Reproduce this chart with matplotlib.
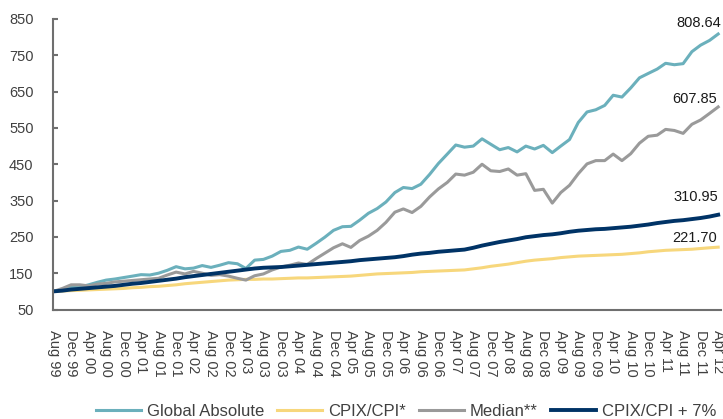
#!/usr/bin/env python
"""Cumulative growth of R100 invested Aug 99: Global Absolute vs Median vs CPIX/CPI targets."""
import matplotlib
matplotlib.use("Agg")
import matplotlib.pyplot as plt
import pandas as pd

plt.rcParams.update({"font.family": ["Liberation Sans", "DejaVu Sans"], "font.size": 10.5})

# bi-monthly observations, Aug 99 .. Apr 12
dates = pd.date_range("1999-08-01", "2012-04-01", freq="2MS")

global_absolute = [
    100, 104, 111, 112, 118, 125, 131, 134, 138, 142, 146, 145, 150, 158, 168, 162,
    164, 171, 166, 172, 179, 176, 163, 186, 188, 197, 210, 213, 222, 216, 232, 249,
    268, 278, 279, 296, 315, 328, 346, 372, 386, 383, 395, 422, 452, 478, 503, 497,
    500, 520, 505, 490, 496, 484, 500, 492, 502, 482, 500, 518, 565, 594, 600, 612,
    640, 635, 660, 688, 700, 712, 728, 724, 727, 760, 778, 791, 808.64]
cpix = [
    100, 101, 102, 103, 104, 105, 106, 107, 108, 110, 111, 113, 114, 116, 118, 121,
    123, 125, 127, 129, 131, 132, 133, 133, 134, 134, 135, 136, 137, 137, 138, 139,
    140, 141, 142, 144, 146, 148, 149, 150, 151, 152, 154, 155, 156, 157, 158, 159,
    162, 165, 169, 172, 175, 179, 183, 186, 188, 190, 193, 195, 197, 198, 199, 200,
    201, 202, 204, 206, 209, 211, 213, 214, 215, 216, 218, 220, 221.70]
median = [
    100, 108, 118, 118, 115, 120, 122, 126, 128, 130, 132, 134, 136, 145, 153, 148,
    155, 150, 144, 146, 142, 136, 131, 143, 148, 159, 167, 172, 178, 174, 190, 205,
    220, 231, 221, 240, 252, 268, 290, 318, 327, 317, 334, 360, 382, 400, 423, 420,
    428, 450, 432, 430, 437, 420, 424, 378, 381, 343, 372, 392, 424, 451, 460, 460,
    478, 460, 479, 508, 527, 530, 546, 543, 535, 560, 572, 590, 607.85]
cpix_plus7 = [
    100, 102, 105, 107, 109, 111, 113, 115, 118, 121, 123, 126, 129, 132, 135, 139,
    142, 145, 148, 151, 154, 157, 160, 163, 165, 166, 167, 169, 171, 173, 175, 177,
    179, 181, 183, 186, 188, 190, 192, 194, 197, 201, 204, 206, 209, 211, 213, 215,
    220, 226, 231, 236, 240, 244, 249, 252, 255, 257, 260, 264, 267, 269, 271, 272,
    274, 276, 278, 281, 284, 288, 291, 294, 296, 299, 302, 306, 310.95]

tick_dates = pd.date_range("1999-08-01", "2012-04-01", freq="4MS")
tick_labels = [
    "Aug 99", "Dec 99", "Apr 00", "Aug 00", "Dec 00", "Apr 01", "Aug 01", "Dec 01",
    "Apr 02", "Aug 02", "Dec 02", "Apr 03", "Aug 03", "Dec 03", "Apr 04", "Aug 04",
    "Dec 04", "Apr 05", "Aug 05", "Dec 05", "Apr 06", "Aug 06", "Dec 06", "Apr 07",
    "Aug 07", "Dec 07", "Apr 08", "Aug 08", "Dec 08", "Apr 09", "Aug 09", "Dec 09",
    "Apr 10", "Aug 10", "Dec 10", "Apr 11", "Aug 11", "Dec 11", "Apr 12"]

SERIES = [("Global Absolute", global_absolute, "#6BB0BC", 2.2),
          ("CPIX/CPI*", cpix, "#F7D77C", 2.2),
          ("Median**", median, "#9A9A9A", 2.2),
          ("CPIX/CPI + 7%", cpix_plus7, "#003366", 2.8)]
# end-label offsets in points (dx, dy)
LABEL_OFF = {"Global Absolute": (2, 5), "CPIX/CPI*": (-1, 4),
             "Median**": (-1, 2.5), "CPIX/CPI + 7%": (0, 10)}

fig = plt.figure(figsize=(7.23, 4.19), dpi=100)
ax = fig.add_axes([0.0733, 0.2613, 0.924, 0.6934])

for name, vals, col, lw in SERIES:
    ax.plot(dates, vals, color=col, lw=lw, label=name, solid_joinstyle="round")
    dx, dy = LABEL_OFF[name]
    ax.annotate(f"{vals[-1]:.2f}", (dates[-1], vals[-1]), xytext=(dx, dy),
                textcoords="offset points", ha="right", va="baseline",
                color="#1a1a1a", fontsize=10.5)

ax.set_ylim(50, 850)
ax.set_yticks(range(50, 851, 100))
ax.set_xlim(dates[0] - pd.Timedelta(days=4), dates[-1] + pd.Timedelta(days=20))
ax.set_xticks(tick_dates)
ax.set_xticklabels(tick_labels, rotation=-90, ha="center", va="top")

for s in ("top", "right"):
    ax.spines[s].set_visible(False)
for s in ("left", "bottom"):
    ax.spines[s].set_color("#6f6f6f")
    ax.spines[s].set_linewidth(1.5)
ax.tick_params(axis="y", direction="in", length=3.6, width=1.5, color="#6f6f6f",
               pad=14, labelcolor="#404040", labelsize=10.5)
ax.tick_params(axis="x", length=0, pad=15, labelcolor="#404040", labelsize=10.5)

fig.legend(loc="lower center", bbox_to_anchor=(0.5615, -0.036), ncol=4, frameon=False,
           fontsize=12, handlelength=2.7, handletextpad=0.35, columnspacing=0.8,
           labelcolor="#404040")

fig.savefig("out.png", dpi=100)
